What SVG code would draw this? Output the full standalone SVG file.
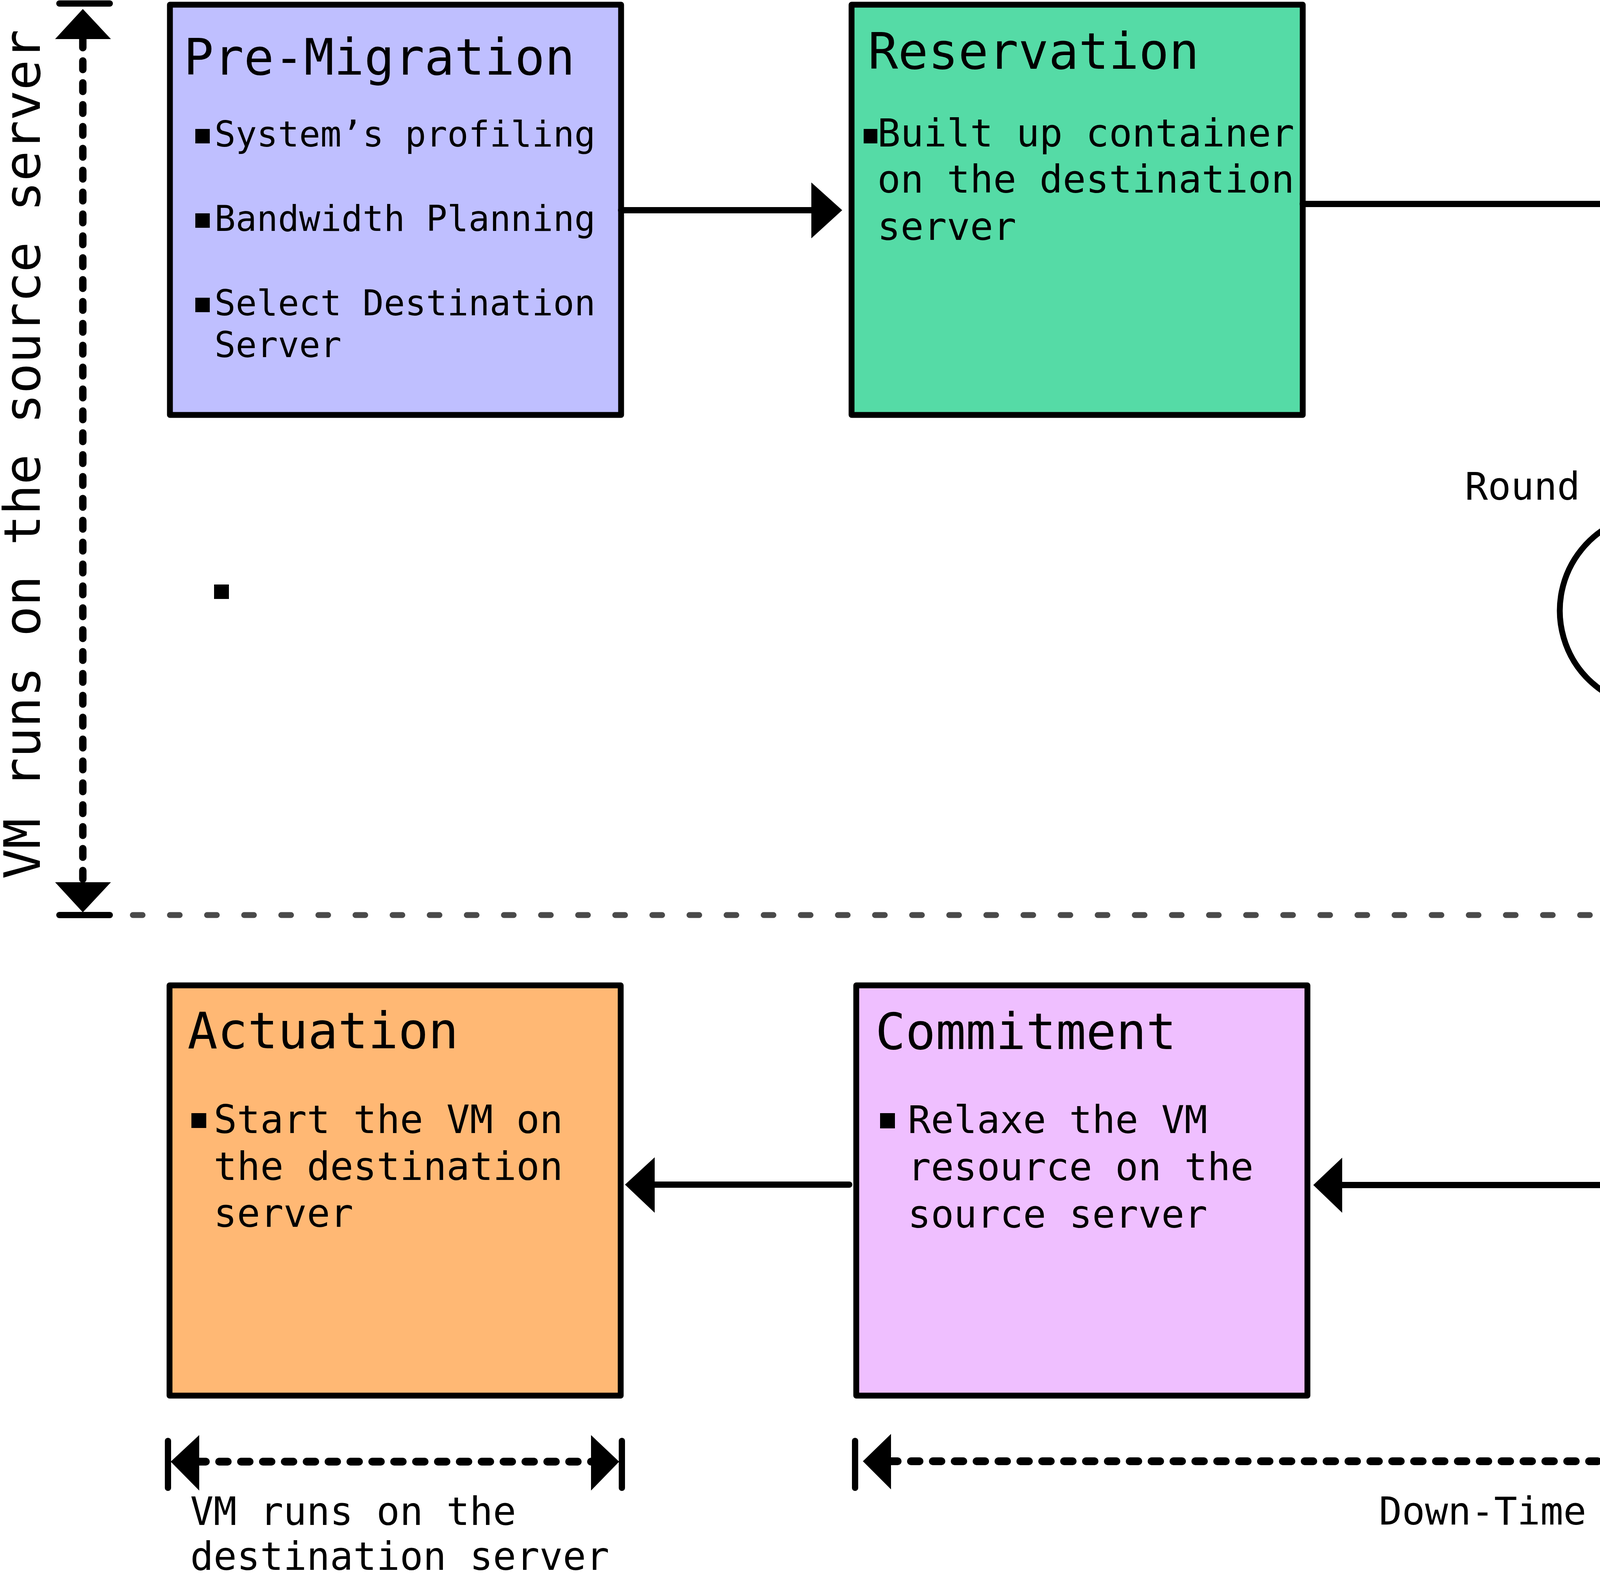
<svg xmlns="http://www.w3.org/2000/svg" width="5896" height="4026" viewBox="0 0 5896 4026">
<style>
.box{stroke:#000;stroke-width:15;stroke-linejoin:round}
.mono{font-family:"DejaVu Sans Mono","Liberation Mono",monospace;fill:#000}
.sans{font-family:"Open Sans","Noto Sans","Liberation Sans",sans-serif;fill:#000}
.t{font-size:128px}
.line{stroke:#000;stroke-width:16;fill:none;stroke-linecap:round}
.dash{stroke:#000;stroke-width:19;fill:none;stroke-linecap:round;stroke-dasharray:22 34}
.gray{stroke:#4a4a4a;stroke-width:15;fill:none;stroke-linecap:round;stroke-dasharray:25 70}
.bar{stroke:#000;stroke-width:16;stroke-linecap:round}
.head{fill:#000}
.bul{fill:#000}
</style>
<rect width="5896" height="4026" fill="#fff"/>

<g id="side-labels">
<text class="mono" font-size="129" transform="translate(102,2250) rotate(-90)">VM runs on the source server</text>
<text class="mono" font-size="129" transform="translate(5894,2250) rotate(-90)">VM runs on the source server</text>
<rect class="bul" x="548" y="1496" width="38" height="37"/>
</g>

<g id="node-premigration">
<rect class="box" x="435" y="12" width="1155" height="1050" fill="#bfbfff"/>
<text class="mono t" x="470" y="191">Pre-Migration</text>
<rect class="bul" x="500" y="330" width="37" height="37"/>
<rect class="bul" x="500" y="546" width="37" height="37"/>
<rect class="bul" x="500" y="762" width="37" height="37"/>
<g class="mono" font-size="90">
<text x="549" y="375">System’s profiling</text>
<text x="549" y="591">Bandwidth Planning</text>
<text x="549" y="807">Select Destination</text>
<text x="549" y="914">Server</text>
</g>
</g>

<g id="node-reservation">
<rect class="box" x="2180" y="12" width="1155" height="1050" fill="#55dba6"/>
<text class="mono t" x="2222" y="176">Reservation</text>
<rect class="bul" x="2211" y="330" width="35" height="37"/>
<g class="mono" font-size="98.5">
<text x="2246" y="375">Built up container</text>
<text x="2246" y="493">on the destination</text>
<text x="2246" y="614">server</text>
</g>
</g>

<g id="node-iterative">
<rect class="box" x="4403" y="1123" width="1155" height="1050" fill="#ffffc0"/>
<text class="sans" font-size="122" x="4430" y="1288" textLength="945" lengthAdjust="spacingAndGlyphs">Iterative Pre-copy</text>
<rect class="bul" x="4449" y="1433" width="38" height="35"/>
<rect class="bul" x="4449" y="1651" width="38" height="38"/>
<g class="sans" font-size="78">
<text x="4503" y="1473" textLength="666" lengthAdjust="spacingAndGlyphs">Read dirty bitmap</text>
<text x="4503" y="1688" textLength="1041" lengthAdjust="spacingAndGlyphs">Copy dirty bits in successive</text>
<text x="4503" y="1795" textLength="261" lengthAdjust="spacingAndGlyphs">rounds</text>
</g>
</g>

<g id="label-round-loop">
<text class="mono" font-size="98" x="3750" y="1279">Round Loop</text>
</g>

<g id="node-stopcopy">
<rect class="box" x="4428" y="2522" width="1155" height="1050" fill="#55dba6"/>
<text class="sans" font-size="122" x="4483" y="2685" textLength="818" lengthAdjust="spacingAndGlyphs">Stop-and-Copy</text>
<rect class="bul" x="4453" y="2817" width="32" height="34"/>
<rect class="bul" x="4453" y="3032" width="32" height="34"/>
<rect class="bul" x="4453" y="3247" width="32" height="34"/>
<g class="mono" font-size="89.5">
<text x="4497" y="2855">Halt migrating VM</text>
<text x="4497" y="3070">Generate ARP message</text>
<text x="4497" y="3285">Migrate</text>
<text x="4497" y="3394">device’s state</text>
</g>
</g>

<g id="node-commitment">
<rect class="box" x="2192" y="2522" width="1155" height="1050" fill="#efbfff"/>
<text class="mono t" x="2241" y="2685">Commitment</text>
<rect class="bul" x="2253" y="2849" width="38" height="39"/>
<g class="mono" font-size="98">
<text x="2324" y="2900">Relaxe the VM</text>
<text x="2324" y="3021">resource on the</text>
<text x="2324" y="3142">source server</text>
</g>
</g>

<g id="node-actuation">
<rect class="box" x="434" y="2522" width="1155" height="1050" fill="#ffb874"/>
<text class="mono t" x="480" y="2683">Actuation</text>
<rect class="bul" x="490" y="2849" width="38" height="38"/>
<g class="mono" font-size="99">
<text x="547" y="2900">Start the VM on</text>
<text x="547" y="3020">the destination</text>
<text x="547" y="3140">server</text>
</g>
</g>

<g id="bottom-labels">
<text class="mono" font-size="99" x="487" y="3903">VM runs on the</text>
<text class="mono" font-size="99" x="487" y="4018">destination server</text>
<text class="mono" font-size="98" x="3530" y="3902">Down-Time</text>
</g>

<g id="connectors">
<line class="line" x1="1590" y1="538" x2="2085" y2="538" stroke-linecap="butt"/>
<polygon class="head" points="2077,467 2156,538 2077,610"/>
<polyline class="line" points="3335,522 4983,522 4983,1040" stroke-linecap="butt" stroke-linejoin="miter"/>
<polygon class="head" points="4911,1036 5054,1036 4983,1113"/>
<path d="M 4403 1375 A 248 248 0 1 0 4317 1799" fill="none" stroke="#000" stroke-width="15"/>
<polygon class="head" points="4279,1719 4397,1753 4357,1877"/>
<line class="line" x1="5006" y1="2173" x2="5006" y2="2440" stroke-linecap="butt"/>
<polygon class="head" points="4937,2435 5076,2435 5006,2512"/>
<line class="line" x1="4405" y1="3033" x2="3430" y2="3033"/>
<polygon class="head" points="3436,2963 3436,3104 3362,3033"/>
<line class="line" x1="2174" y1="3032" x2="1670" y2="3032"/>
<polygon class="head" points="1676,2962 1676,3104 1600,3032"/>
<line class="dash" x1="212" y1="100" x2="212" y2="2258"/>
<polygon class="head" points="141,100 284,100 212,23"/>
<polygon class="head" points="141,2258 284,2258 212,2335"/>
<line class="bar" x1="152" y1="9" x2="281" y2="9"/>
<line class="bar" x1="152" y1="2342" x2="281" y2="2342"/>
<line class="dash" x1="5711" y1="100" x2="5711" y2="2258"/>
<polygon class="head" points="5640,100 5783,100 5711,23"/>
<polygon class="head" points="5640,2258 5783,2258 5711,2335"/>
<line class="bar" x1="5652" y1="9" x2="5781" y2="9"/>
<line class="bar" x1="5652" y1="2342" x2="5781" y2="2342"/>
<line class="gray" x1="340" y1="2342" x2="5600" y2="2342"/>
<line class="dash" x1="505" y1="3741" x2="1518" y2="3741" style="stroke-width:20"/>
<polygon class="head" points="510,3673 510,3815 437,3741"/>
<polygon class="head" points="1513,3673 1513,3815 1585,3741"/>
<line class="bar" x1="430" y1="3688" x2="430" y2="3808"/>
<line class="bar" x1="1592" y1="3688" x2="1592" y2="3808"/>
<line class="dash" x1="2276" y1="3740" x2="5499" y2="3740" style="stroke-width:20"/>
<polygon class="head" points="2281,3670 2281,3812 2209,3740"/>
<polygon class="head" points="5494,3670 5494,3812 5566,3740"/>
<line class="bar" x1="2189" y1="3688" x2="2189" y2="3808"/>
<line class="bar" x1="5583" y1="3688" x2="5583" y2="3808"/>
</g>
</svg>
